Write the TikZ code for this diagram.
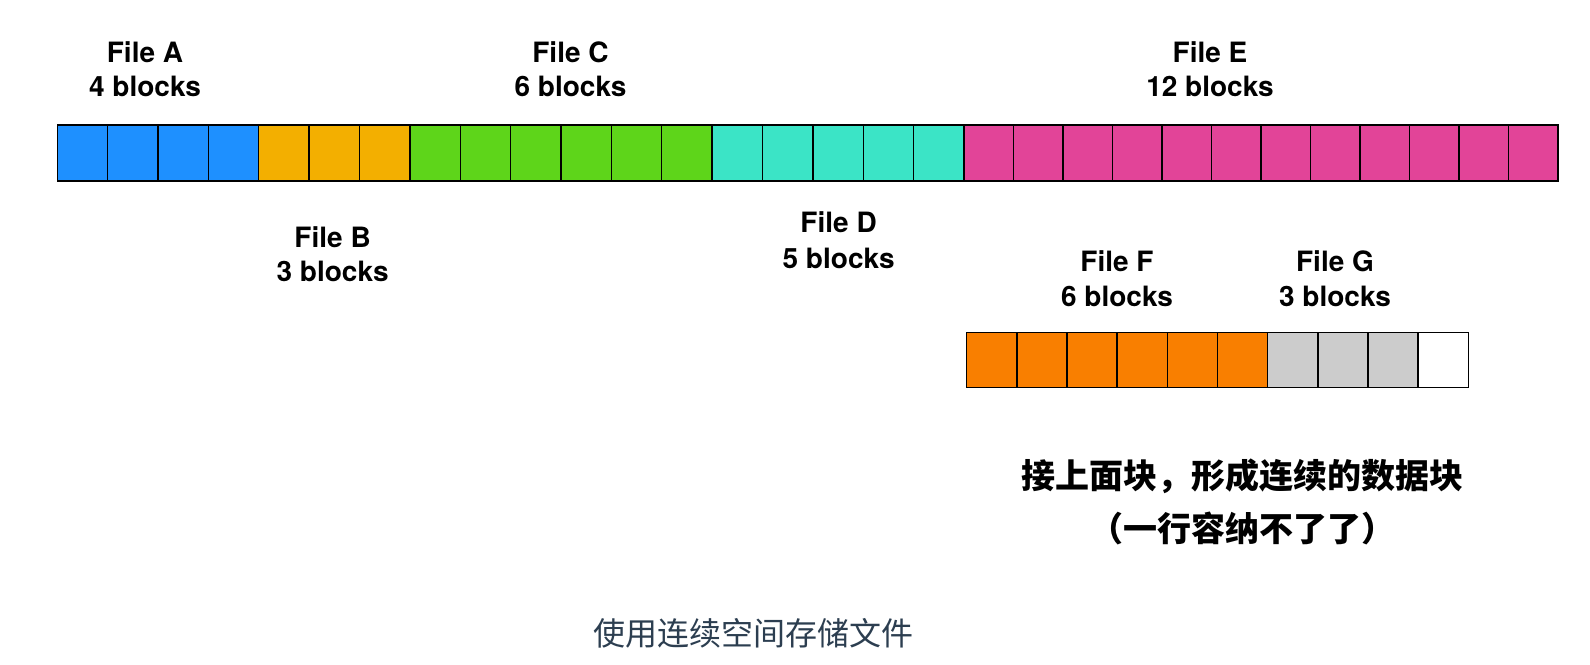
\documentclass[tikz,border=0pt]{standalone}
\usepackage{fontspec}
\setmainfont{TeX Gyre Heros}
\newfontfamily\cjk{Noto Sans CJK SC}
\definecolor{cA}{RGB}{30,144,255}
\definecolor{cB}{RGB}{243,175,0}
\definecolor{cC}{RGB}{94,213,26}
\definecolor{cD}{RGB}{59,228,198}
\definecolor{cE}{RGB}{226,68,152}
\definecolor{cF}{RGB}{249,127,0}
\definecolor{cG}{RGB}{204,204,204}
\definecolor{capc}{RGB}{44,62,80}
\tikzset{
  blk/.style={draw=black, line width=1.4pt, inner sep=0pt, minimum height=56pt},
  blkb/.style={blk, minimum height=55pt, minimum width=50.16pt},
  lbl/.style={anchor=base, inner sep=0pt, font=\fontsize{28}{34}\selectfont\bfseries},
  cjkl/.style={inner sep=0pt, font=\cjk\bfseries\fontsize{34}{40}\selectfont},
  capt/.style={inner sep=0pt, text=capc, font=\cjk\fontsize{32}{38}\selectfont}
}
\begin{document}
\begin{tikzpicture}[x=1pt,y=-1pt]
\useasboundingbox (0,0) rectangle (1590,664);
% top row
\foreach \i in {0,...,3}
  \node[blk, fill=cA, minimum width=50.37pt] (t\i) at ({57.3+50.37*(\i+0.5)},153) {};
\foreach \i in {4,...,6}
  \node[blk, fill=cB, minimum width=50.37pt] (t\i) at ({57.3+50.37*(\i+0.5)},153) {};
\foreach \i in {7,...,12}
  \node[blk, fill=cC, minimum width=50.37pt] (t\i) at ({57.3+50.37*(\i+0.5)},153) {};
\foreach \i in {13,...,17}
  \node[blk, fill=cD, minimum width=50.37pt] (t\i) at ({57.3+50.37*(\i+0.5)},153) {};
\foreach \i in {18,...,29}
  \node[blk, fill=cE, minimum width=49.5pt] (t\i) at ({964+49.5*(\i-18+0.5)},153) {};
% bottom row
\foreach \i in {0,...,5}
  \node[blkb, fill=cF] (b\i) at ({966.7+50.16*(\i+0.5)},360.2) {};
\foreach \i in {6,...,8}
  \node[blkb, fill=cG] (b\i) at ({966.7+50.16*(\i+0.5)},360.2) {};
\node[blkb, fill=white] (b9) at ({966.7+50.16*9.5},360.2) {};
% labels
\node[lbl] (la1) at (145,62.5) {File A};
\node[lbl] (la2) at (145,96.5) {4 blocks};
\node[lbl] (lc1) at (570.5,62.5) {File C};
\node[lbl] (lc2) at (570.5,96.5) {6 blocks};
\node[lbl] (le1) at (1210,62.5) {File E};
\node[lbl] (le2) at (1210,96.5) {12 blocks};
\node[lbl] (lb1) at (332.6,247.3) {File B};
\node[lbl] (lb2) at (332.6,281.8) {3 blocks};
\node[lbl] (ld1) at (838.6,232) {File D};
\node[lbl] (ld2) at (838.6,268) {5 blocks};
\node[lbl] (lf1) at (1117,271) {File F};
\node[lbl] (lf2) at (1117,306) {6 blocks};
\node[lbl] (lg1) at (1335,271) {File G};
\node[lbl] (lg2) at (1335,306) {3 blocks};
% notes
\node[cjkl] (n1) at (1242,476) {接上面块，形成连续的数据块};
\node[cjkl] (n2) at (1242,528) {（一行容纳不了了）};
\node[capt] (cap) at (753,633) {使用连续空间存储文件};
\end{tikzpicture}
\end{document}
